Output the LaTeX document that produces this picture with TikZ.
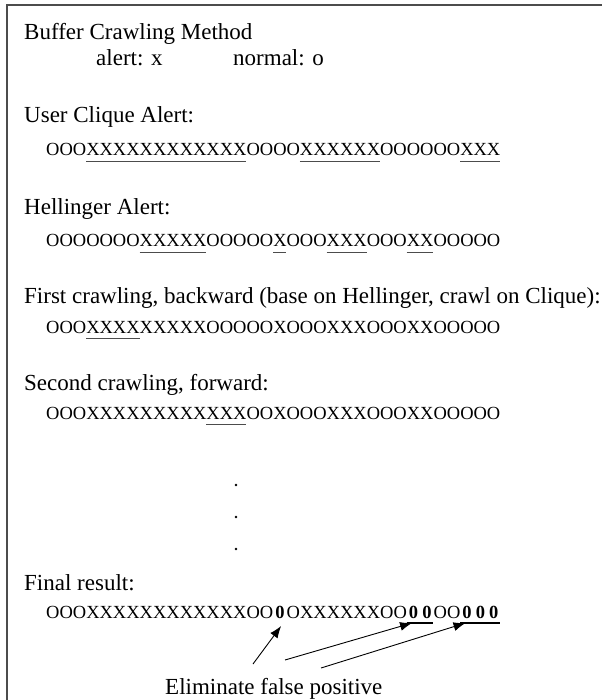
\documentclass[tikz,border=0pt]{standalone}
\usepackage{fontspec}
\setmainfont{Liberation Serif}
\usetikzlibrary{arrows.meta,calc}

% width of one O or X in the alert sequences
\def\chw{13.36}
% underline a run of characters #2..#3 of sequence node #1 with style #4
\newcommand\markrun[4]{%
  \draw[#4] ($(#1.base west)+({#2*\chw},5)$) -- ($(#1.base west)+({(#3+1)*\chw},5)$);}
% a bold zero that keeps the width of one sequence character
\newcommand\fp[1]{\makebox[\chw pt][c]{\textbf{#1}}}

\begin{document}
\begin{tikzpicture}[x=1pt,y=-1pt,
  heading/.style={anchor=base west, inner sep=0pt, font=\fontsize{23}{27}\selectfont},
  seq/.style={anchor=base west, inner sep=0pt, font=\fontsize{18.5}{22}\selectfont},
  uline/.style={line width=0.9pt, draw=black!70},
  fpline/.style={line width=2.4pt, draw=black},
  fparrow/.style={line width=0.9pt, draw=black, -{Latex[length=12pt,width=9pt]}},
  frame/.style={line width=2pt, draw=black!70},
  ellipsis/.style={circle, fill=black, inner sep=0pt, minimum size=2.8pt}
]
\useasboundingbox (0,0) rectangle (602,700);

% outer frame (left and top edges)
\coordinate (fl) at (7,700);
\coordinate (fc) at (7,5);
\coordinate (fr) at (602,5);
\draw[frame] (fl) -- (fc) -- (fr);

% title and legend
\node[heading] (title) at (24,40) {Buffer Crawling Method};
\node[heading] (alert) at (96,66) {alert: x};
\node[heading] (normal) at (233,66) {normal: o};

% user clique alerts
\node[heading] (cliqueL) at (24,123) {User Clique Alert:};
\node[seq] (clique) at (46,156) {OOOXXXXXXXXXXXXOOOOXXXXXXOOOOOOXXX};
\markrun{clique}{3}{14}{uline}
\markrun{clique}{19}{24}{uline}
\markrun{clique}{31}{33}{uline}

% hellinger alerts
\node[heading] (hellL) at (24,215) {Hellinger Alert:};
\node[seq] (hell) at (46,247) {OOOOOOOXXXXXOOOOOXOOOXXXOOOXXOOOOO};
\markrun{hell}{7}{11}{uline}
\markrun{hell}{17}{17}{uline}
\markrun{hell}{21}{23}{uline}
\markrun{hell}{27}{28}{uline}

% first crawling
\node[heading] (firstL) at (24,303) {First crawling, backward (base on Hellinger, crawl on Clique):};
\node[seq] (first) at (46,333) {OOOXXXXXXXXXOOOOOXOOOXXXOOOXXOOOOO};
\markrun{first}{3}{6}{uline}

% second crawling
\node[heading] (secondL) at (24,390) {Second crawling, forward:};
\node[seq] (second) at (46,419) {OOOXXXXXXXXXXXXOOXOOOXXXOOOXXOOOOO};
\markrun{second}{12}{14}{uline}

% vertical ellipsis
\node[ellipsis] (d1) at (236,485) {};
\node[ellipsis] (d2) at (236,517) {};
\node[ellipsis] (d3) at (236,549) {};

% final result
\node[heading] (finalL) at (24,590) {Final result:};
\node[seq] (final) at (46,618) {OOOXXXXXXXXXXXXOO\fp{0}OXXXXXXOO\fp{0}\fp{0}OO\fp{0}\fp{0}\fp{0}};
\markrun{final}{27}{28}{fpline}
\markrun{final}{31}{33}{fpline}
\coordinate (t1) at ($(final.base west)+({17.6*\chw},8)$);
\coordinate (t2) at ($(final.base west)+({27.4*\chw},5)$);
\coordinate (t3) at ($(final.base west)+({31.4*\chw},5)$);

% annotation with its three arrows
\node[heading] (elim) at (165,694) {Eliminate false positive};
\coordinate (s1) at (253,664);
\coordinate (s2) at (285,660);
\coordinate (s3) at (321,668);
\draw[fparrow] (s1) -- (t1);
\draw[fparrow] (s2) -- (t2);
\draw[fparrow] (s3) -- (t3);
\end{tikzpicture}
\end{document}
